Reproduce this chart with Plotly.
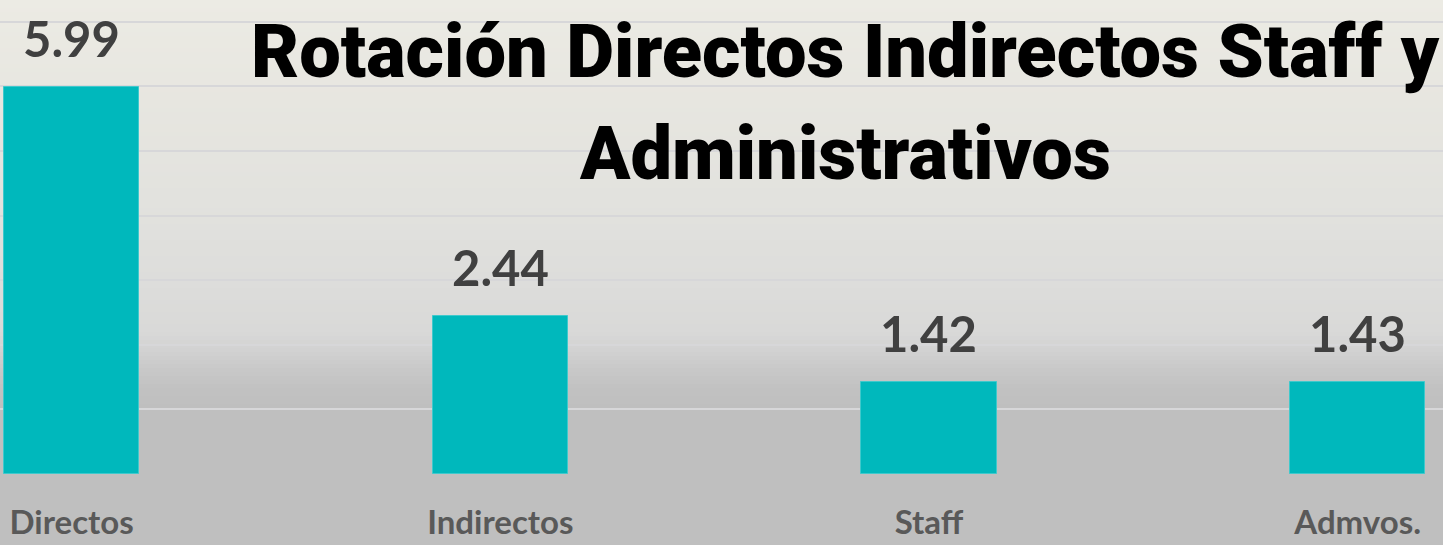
import plotly.graph_objects as go

categories = ["Directos", "Indirectos", "Staff", "Admvos."]
values = [5.99, 2.44, 1.42, 1.43]
labels = ["5.99", "2.44", "1.42", "1.43"]
title_line1 = "Rotación Directos Indirectos Staff y"
title_line2 = "Administrativos"

W, H = 1443, 545
MB = 71
plot_h = H - MB

fig = go.Figure()
fig.add_trace(go.Bar(
    x=categories, y=values, width=0.315,
    marker=dict(color="#00b8bc", line=dict(color="#3fc9cc", width=1)),
    hoverinfo="skip",
))

# data labels
for c, v, t in zip(categories, values, labels):
    fig.add_annotation(x=c, y=v, xref="x", yref="y", text=t, showarrow=False,
                       yanchor="bottom", yshift=18,
                       font=dict(family="Lato", size=49, color="#404040", weight="bold"))

# background gradient stripes (paper coords spanning whole figure)
stops = [(0, (236, 235, 228)), (100, (231, 230, 224)), (200, (226, 226, 222)),
         (280, (221, 221, 219)), (330, (217, 217, 216)), (350, (210, 210, 210)),
         (370, (200, 200, 200)), (390, (193, 193, 193)), (410, (191, 191, 191)),
         (545, (191, 191, 191))]

def col(py):
    for (a, ca), (b, cb) in zip(stops[:-1], stops[1:]):
        if a <= py <= b:
            f = (py - a) / (b - a) if b > a else 0
            return "rgb(%d,%d,%d)" % tuple(round(ca[i] + (cb[i] - ca[i]) * f) for i in range(3))
    return "rgb(191,191,191)"

step = 4
for py in range(0, H, step):
    y0 = 1 - (py + step) / plot_h
    y1 = 1 - py / plot_h
    fig.add_shape(type="rect", xref="paper", yref="paper", x0=0, x1=1, y0=y0, y1=y1,
                  fillcolor=col(py + step / 2), line=dict(width=0), layer="below")

title_font = dict(family="Roboto", size=74, color="#000000", weight=900)
fig.add_annotation(x=845 / W, y=1 - 6 / plot_h, xref="paper", yref="paper",
                   text=title_line1, showarrow=False, xanchor="center", yanchor="top",
                   font=title_font)
fig.add_annotation(x=845 / W, y=1 - 108 / plot_h, xref="paper", yref="paper",
                   text=title_line2, showarrow=False, xanchor="center", yanchor="top",
                   font=title_font)

fig.update_layout(
    width=W, height=H,
    margin=dict(l=0, r=0, t=0, b=MB, autoexpand=False),
    paper_bgcolor="#bfbfbf", plot_bgcolor="rgba(0,0,0,0)",
    showlegend=False, template="none",
    xaxis=dict(range=[-0.167, 3.199], showgrid=False, zeroline=False, showline=False,
               automargin=False,
               ticks="outside", ticklen=19, tickcolor="rgba(0,0,0,0)",
               tickfont=dict(family="Lato", size=33, color="#595959", weight="bold")),
    yaxis=dict(range=[0, 7.337], dtick=1, showgrid=True, gridcolor="#d7d7d9", gridwidth=2,
               automargin=False,
               zeroline=False, showticklabels=False, showline=False),
    bargap=0,
)

fig.write_html("out.html", config={"displayModeBar": False},
               post_script="document.body.style.margin='0';document.body.style.padding='0';")
